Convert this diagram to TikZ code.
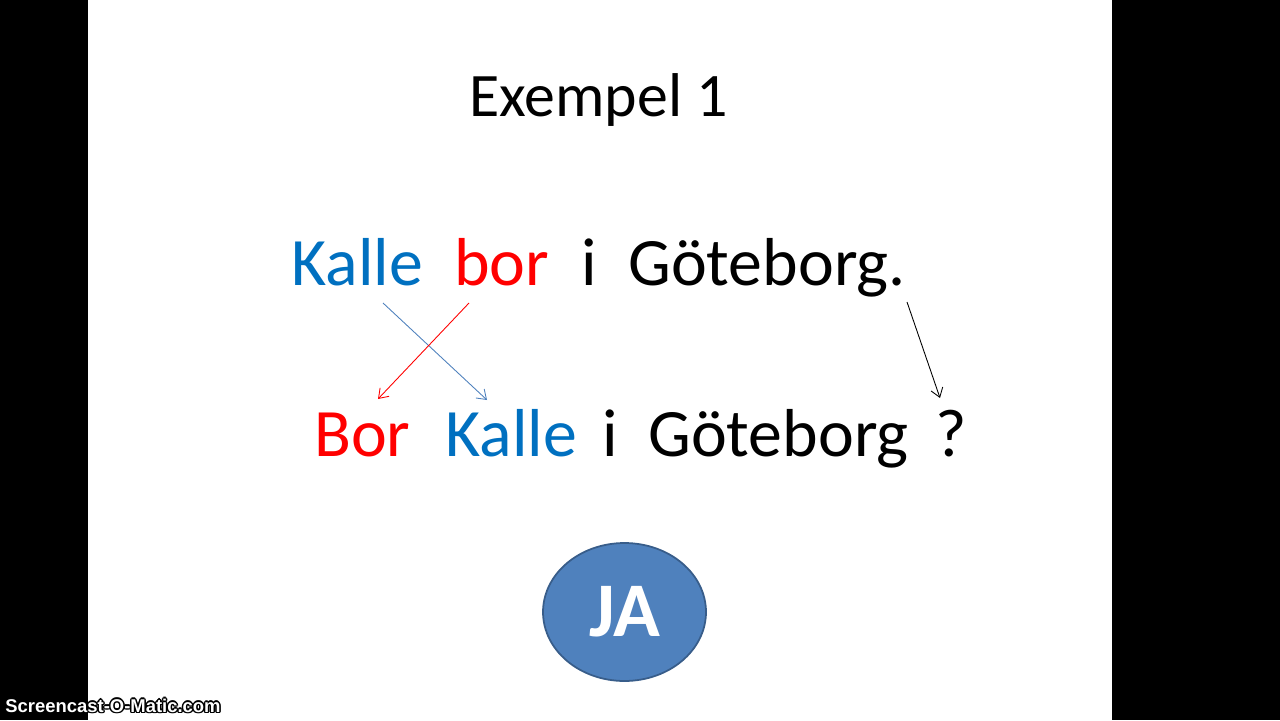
\documentclass[tikz,border=0pt]{standalone}
\usepackage{fontspec}
\setmainfont{Carlito}
\newfontfamily\wmfont{Liberation Sans}
\usetikzlibrary{
	arrows.meta,
	positioning,
	calc,
	shapes.geometric
}
\definecolor{kblue}{HTML}{0070C0}
\definecolor{kred}{HTML}{FF0000}
\definecolor{jafill}{HTML}{4F81BD}
\definecolor{jaline}{HTML}{385D8A}

\begin{document}
\begin{tikzpicture}[x=0.02cm, y=-0.02cm,
		word/.style={inner sep=0pt, anchor=base west, font=\fontsize{38.6}{44}\selectfont},
		swap/.style={line width=0.5pt, -{Straight Barb[length=5pt,width=7pt]}}]

		\useasboundingbox (0, 0) rectangle (1280, 720);

		% side bars
		\fill[black] (0, 0) rectangle (88, 720);
		\fill[black] (1112, 0) rectangle (1280, 720);

		% title
		\node[inner sep=0pt, anchor=base west, font=\fontsize{35.2}{40}\selectfont] (title) at (469, 116) {Exempel 1};

		% statement
		\node[word, text=kblue] (kalleA) at (291, 285) {Kalle};
		\node[word, text=kred] (borA) at (454, 285) {bor};
		\node[word] (iA) at (581, 285) {i};
		\node[word] (gbgA) at (628, 285) {Göteborg.};

		% question
		\node[word, text=kred] (borB) at (314, 456) {Bor};
		\node[word, text=kblue] (kalleB) at (445, 456) {Kalle};
		\node[word] (iB) at (602, 456) {i};
		\node[word] (gbgB) at (648, 456) {Göteborg};
		\node[word] (qB) at (935, 456) {?};

		% arrow ends
		\coordinate (kalleS) at (383, 303);
		\coordinate (kalleE) at (487, 400);
		\coordinate (borS) at (469, 303);
		\coordinate (borE) at (378, 399);
		\coordinate (dotS) at (907, 302);
		\coordinate (dotE) at (940, 398);

		\draw[swap, jafill] (kalleS) -- (kalleE);
		\draw[swap, kred] (borS) -- (borE);
		\draw[swap, black] (dotS) -- (dotE);

		% answer
		\node[ellipse, draw=jaline, fill=jafill, line width=1pt, inner sep=0pt,
			minimum width=3.26cm, minimum height=2.76cm,
			text=white, font=\fontsize{44}{48}\selectfont\bfseries] (ja) at (624.5, 612) {JA};

		% watermark
		\foreach \dx/\dy in {-1.5/0, 1.5/0, 0/-1.5, 0/1.5, -1/-1, 1/1, -1/1, 1/-1}
			\node[inner sep=0pt, anchor=base west, text=black, font=\wmfont\fontsize{10.5}{12}\selectfont\bfseries] at ($(5, 712) + (\dx, \dy)$) {Screencast-O-Matic.com};
		\node[inner sep=0pt, anchor=base west, text=white, font=\wmfont\fontsize{10.5}{12}\selectfont\bfseries] (wm) at (5, 712) {Screencast-O-Matic.com};

	\end{tikzpicture}
\end{document}
